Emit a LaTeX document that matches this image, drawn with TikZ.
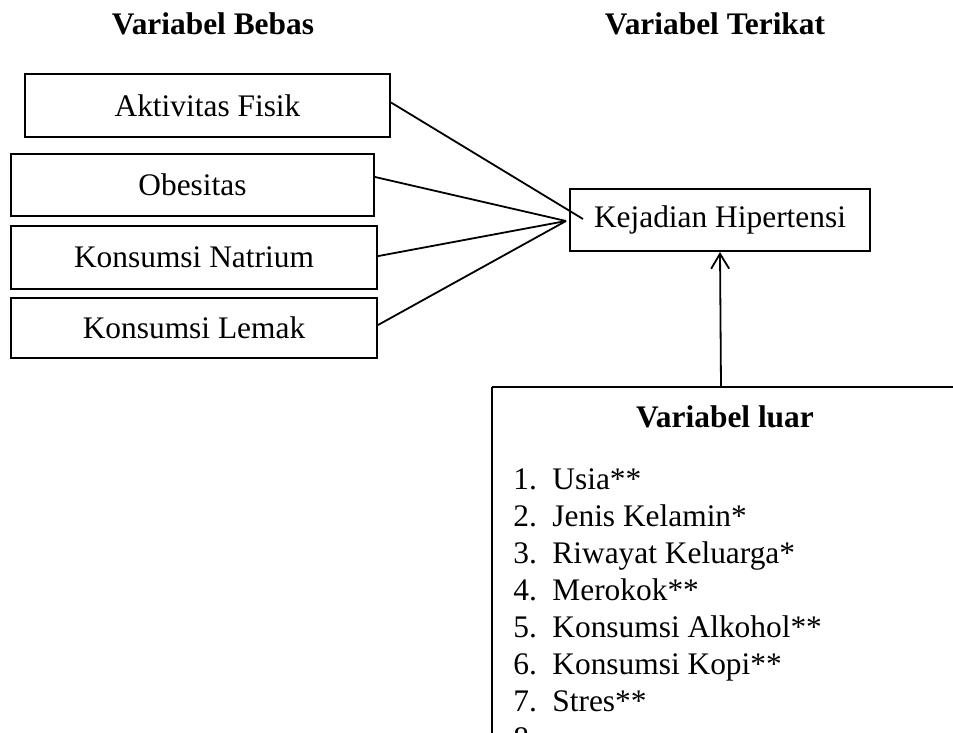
\documentclass[tikz,border=0pt]{standalone}
\usepackage{fontspec}
\setmainfont{Liberation Serif}
\usetikzlibrary{arrows.meta}
\begin{document}
\begin{tikzpicture}[x=0.5pt,y=-0.5pt,
  every node/.style={font=\fontsize{15.7}{18}\selectfont, inner sep=0pt},
  varbox/.style={draw, line width=1pt, minimum height=31pt, anchor=center},
  hdr/.style={font=\fontsize{15.7}{18}\selectfont\bfseries, anchor=base},
  conn/.style={line width=0.9pt},
  item/.style={anchor=base west}]
\useasboundingbox (0,0) rectangle (953,733);
% headers
\node[hdr] (hbebas) at (213,35) {Variabel Bebas};
\node[hdr] (hterikat) at (715,35) {Variabel Terikat};
% independent variables
\node[varbox, minimum width=182.5pt, minimum height=31.5pt] (akt) at (207.5,105.5) {Aktivitas Fisik};
\node[varbox, minimum width=181.5pt] (obe) at (192.5,185) {Obesitas};
\node[varbox, minimum width=183pt, minimum height=31.5pt] (nat) at (194,257.5) {Konsumsi Natrium};
\node[varbox, minimum width=183pt, minimum height=30pt] (lem) at (194,328) {Konsumsi Lemak};
% dependent variable
\node[varbox, minimum width=150pt] (kej) at (720,220) {Kejadian Hipertensi};
% connectors
\coordinate (conv) at (566,221);
\coordinate (aktend) at (583,219);
\draw[conn] ([yshift=1.5pt]akt.east) -- (aktend);
\draw[conn] ([yshift=4pt]obe.east) -- (conv);
\draw[conn] ([yshift=0.7pt]nat.east) -- (conv);
\draw[conn] ([yshift=1.5pt]lem.east) -- (conv);
% outside variables box
\begin{scope}
\clip (0,0) rectangle (953,733);
\draw[line width=1pt] (492,387) -- (1000,387);
\draw[line width=1pt] (492,387) -- (492,760);
\coordinate (luartop) at (721,387);
\node[hdr] (luar) at (725,427) {Variabel luar};
\foreach \n/\t [count=\i] in {1/Usia**,2/Jenis Kelamin*,3/Riwayat Keluarga*,4/Merokok**,5/Konsumsi Alkohol**,6/Konsumsi Kopi**,7/Stres**}{
  \node[item] (num\i) at (513,{489+37*(\i-1)}) {\n.};
  \node[item] (txt\i) at (552,{489+37*(\i-1)}) {\t};
}
\node[item] (num8) at (513,748) {8.};
\end{scope}
\draw[conn, -{Straight Barb[length=7.5pt,width=9pt]}] (luartop) -- (kej.south);
\end{tikzpicture}
\end{document}
